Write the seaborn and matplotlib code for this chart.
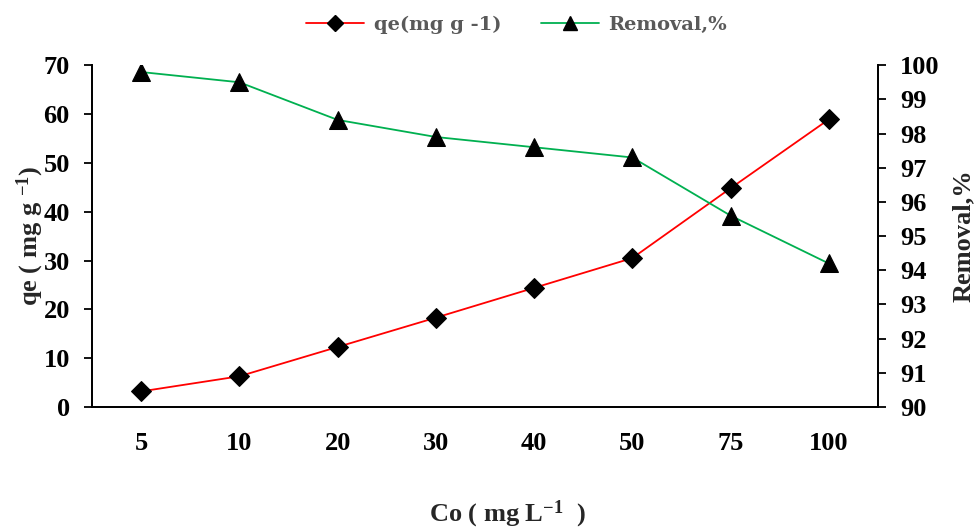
import matplotlib
matplotlib.use("Agg")
import matplotlib.pyplot as plt
import seaborn as sns
import pandas as pd
from matplotlib.lines import Line2D

co = ["5", "10", "20", "30", "40", "50", "75", "100"]
qe = [3.2, 6.3, 12.3, 18.3, 24.4, 30.5, 44.8, 58.9]
removal = [99.8, 99.5, 98.4, 97.9, 97.6, 97.3, 95.6, 94.2]

df = pd.DataFrame({"Co": co, "qe": qe, "Removal": removal})

sns.set_style("white")
plt.rcParams["font.family"] = ["Liberation Serif", "DejaVu Serif"]
plt.rcParams["font.weight"] = "bold"
plt.rcParams["mathtext.fontset"] = "custom"
plt.rcParams["mathtext.rm"] = "Liberation Serif:bold"
plt.rcParams["mathtext.bf"] = "Liberation Serif:bold"
plt.rcParams["mathtext.it"] = "Liberation Serif:bold"

fig = plt.figure(figsize=(9.75, 5.3), dpi=100)
ax = fig.add_axes([0.0944, 0.232, 0.806, 0.645])
ax2 = ax.twinx()

sns.lineplot(data=df, x="Co", y="qe", ax=ax, color="#FF0000", lw=1.3,
             marker="D", markersize=10, markerfacecolor="black",
             markeredgecolor="black", sort=False)
sns.lineplot(data=df, x="Co", y="Removal", ax=ax2, color="#00B050", lw=1.3,
             marker="^", markersize=13, markerfacecolor="black",
             markeredgecolor="black", sort=False)

ax.set_xlim(-0.5, 7.5)
ax.set_ylim(0, 70)
ax.set_yticks(range(0, 71, 10))
ax2.set_ylim(90, 100)
ax2.set_yticks(range(90, 101, 1))

for a in (ax, ax2):
    a.spines["top"].set_visible(False)
    for s in a.spines.values():
        s.set_linewidth(1.3)
        s.set_color("black")
    a.tick_params(direction="out", length=6, width=1.3, labelsize=19,
                  colors="black", pad=10)

ax.tick_params(axis="x", pad=12)
ax.set_xticks(range(len(co)))
ax.set_xticklabels(co, fontweight="bold")
for lab in ax.get_yticklabels() + ax2.get_yticklabels():
    lab.set_fontweight("bold")

ax.set_xlabel("")
ax.set_ylabel("")
ax2.set_ylabel("")
fig.text(30 / 975, 0.555, r"qe ( mg g $^{-1}$)", rotation=90, ha="center",
         va="center", fontsize=19, fontweight="bold")
fig.text(963 / 975, 0.555, "Removal,%", rotation=90, ha="center",
         va="center", fontsize=19, fontweight="bold")
fig.text(0.52, 0.03, r"Co ( mg L$^{-1}$  )", ha="center", va="center",
         fontsize=19, fontweight="bold")

handles = [
    Line2D([], [], color="#FF0000", lw=1.3, marker="D", markersize=8,
           markerfacecolor="black", markeredgecolor="black"),
    Line2D([], [], color="#00B050", lw=1.3, marker="^", markersize=10,
           markerfacecolor="black", markeredgecolor="black"),
]
leg = fig.legend(handles, ["qe(mg g -1)", "Removal,%"], loc="center",
                 bbox_to_anchor=(0.53, 0.953), ncol=2, frameon=False,
                 prop={"family": "DejaVu Serif", "weight": "bold", "size": 14},
                 handlelength=3, columnspacing=2.0, handletextpad=0.5)
for t in leg.get_texts():
    t.set_color("#595959")

fig.savefig("out.png", dpi=100)
